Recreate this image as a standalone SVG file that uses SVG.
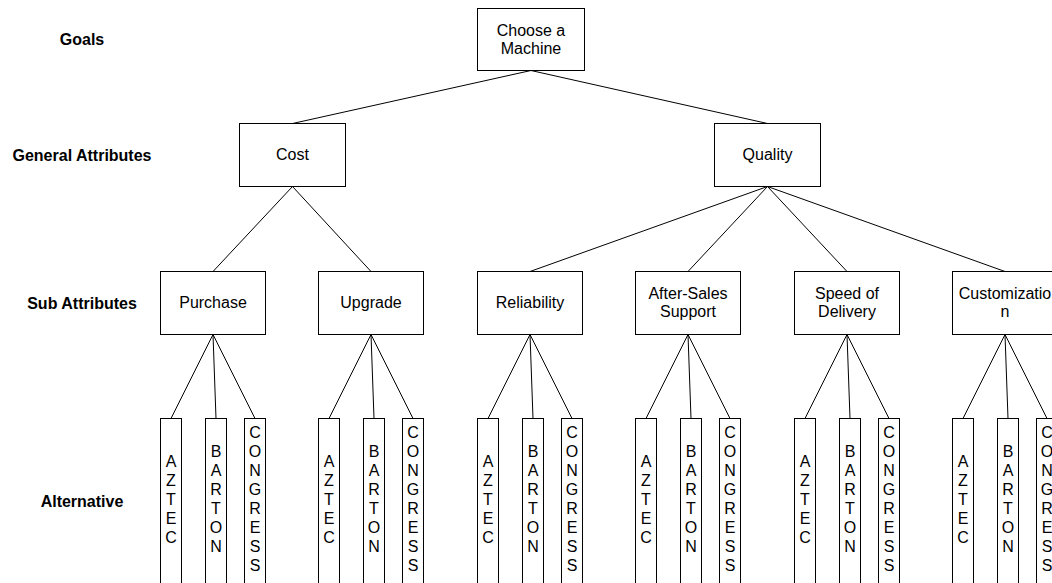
<svg xmlns="http://www.w3.org/2000/svg" width="1052" height="583" viewBox="0 0 1052 583">
<style>
.box{fill:#fff;stroke:#000;stroke-width:1}
.t{font-family:"Liberation Sans",Arial,sans-serif;font-size:16px;fill:#000;text-anchor:middle}
.lbl{font-family:"Liberation Sans",Arial,sans-serif;font-size:16px;font-weight:bold;fill:#000;text-anchor:middle}
.c line{stroke:#000;stroke-width:1}
</style>
<rect width="1052" height="583" fill="#fff"/>
<g id="level-labels">
<text class="lbl" x="82" y="45">Goals</text>
<text class="lbl" x="82" y="161">General Attributes</text>
<text class="lbl" x="82" y="309">Sub Attributes</text>
<text class="lbl" x="82" y="507">Alternative</text>
</g>
<g class="c" id="connectors">
<line x1="531" y1="70.5" x2="292.5" y2="123.5"/>
<line x1="531" y1="70.5" x2="767.5" y2="123.5"/>
<line x1="292.5" y1="186.5" x2="213" y2="271.5"/>
<line x1="292.5" y1="186.5" x2="371" y2="271.5"/>
<line x1="767.5" y1="186.5" x2="530" y2="271.5"/>
<line x1="767.5" y1="186.5" x2="688" y2="271.5"/>
<line x1="767.5" y1="186.5" x2="847" y2="271.5"/>
<line x1="767.5" y1="186.5" x2="1005" y2="271.5"/>
<line x1="213" y1="334.5" x2="171" y2="418.5"/><line x1="213" y1="334.5" x2="216" y2="418.5"/><line x1="213" y1="334.5" x2="255" y2="418.5"/>
<line x1="371" y1="334.5" x2="329" y2="418.5"/><line x1="371" y1="334.5" x2="374" y2="418.5"/><line x1="371" y1="334.5" x2="413" y2="418.5"/>
<line x1="530" y1="334.5" x2="488" y2="418.5"/><line x1="530" y1="334.5" x2="533" y2="418.5"/><line x1="530" y1="334.5" x2="572" y2="418.5"/>
<line x1="688" y1="334.5" x2="646" y2="418.5"/><line x1="688" y1="334.5" x2="691" y2="418.5"/><line x1="688" y1="334.5" x2="730" y2="418.5"/>
<line x1="847" y1="334.5" x2="805" y2="418.5"/><line x1="847" y1="334.5" x2="850" y2="418.5"/><line x1="847" y1="334.5" x2="889" y2="418.5"/>
<line x1="1005" y1="334.5" x2="963" y2="418.5"/><line x1="1005" y1="334.5" x2="1008" y2="418.5"/><line x1="1005" y1="334.5" x2="1047" y2="418.5"/>
</g>
<g id="goal">
<rect class="box" x="477.5" y="8.5" width="107" height="62"/>
<text class="t" x="531" y="36">Choose a</text>
<text class="t" x="531" y="54">Machine</text>
</g>
<g id="cost">
<rect class="box" x="239.5" y="123.5" width="106" height="63"/>
<text class="t" x="292.5" y="160">Cost</text>
</g>
<g id="quality">
<rect class="box" x="714.5" y="123.5" width="106" height="63"/>
<text class="t" x="767.5" y="160">Quality</text>
</g>
<g id="purchase">
<rect class="box" x="160.5" y="271.5" width="105" height="63"/>
<text class="t" x="213" y="308">Purchase</text>
</g>
<g id="upgrade">
<rect class="box" x="318.5" y="271.5" width="105" height="63"/>
<text class="t" x="371" y="308">Upgrade</text>
</g>
<g id="reliability">
<rect class="box" x="477.5" y="271.5" width="105" height="63"/>
<text class="t" x="530" y="308">Reliability</text>
</g>
<g id="after-sales">
<rect class="box" x="635.5" y="271.5" width="105" height="63"/>
<text class="t" x="688" y="299">After-Sales</text>
<text class="t" x="688" y="317">Support</text>
</g>
<g id="speed">
<rect class="box" x="794.5" y="271.5" width="105" height="63"/>
<text class="t" x="847" y="299">Speed of</text>
<text class="t" x="847" y="317">Delivery</text>
</g>
<g id="customization">
<rect class="box" x="952.5" y="271.5" width="105" height="63"/>
<text class="t" x="1005" y="299">Customizatio</text>
<text class="t" x="1005" y="317">n</text>
</g>
<defs>
<g id="alts">
<rect class="box" x="0.5" y="418.5" width="21" height="200"/>
<rect class="box" x="45.5" y="418.5" width="21" height="200"/>
<rect class="box" x="84.5" y="418.5" width="21" height="200"/>
<text class="t" x="11"><tspan x="11" y="466.7">A</tspan><tspan x="11" y="485.7">Z</tspan><tspan x="11" y="504.7">T</tspan><tspan x="11" y="523.7">E</tspan><tspan x="11" y="542.7">C</tspan></text>
<text class="t" x="56"><tspan x="56" y="457.2">B</tspan><tspan x="56" y="476.2">A</tspan><tspan x="56" y="495.2">R</tspan><tspan x="56" y="514.2">T</tspan><tspan x="56" y="533.2">O</tspan><tspan x="56" y="552.2">N</tspan></text>
<text class="t" x="95"><tspan x="95" y="438.2">C</tspan><tspan x="95" y="457.2">O</tspan><tspan x="95" y="476.2">N</tspan><tspan x="95" y="495.2">G</tspan><tspan x="95" y="514.2">R</tspan><tspan x="95" y="533.2">E</tspan><tspan x="95" y="552.2">S</tspan><tspan x="95" y="571.2">S</tspan></text>
</g>
</defs>
<g id="alt-purchase"><use href="#alts" x="160"/></g>
<g id="alt-upgrade"><use href="#alts" x="318"/></g>
<g id="alt-reliability"><use href="#alts" x="477"/></g>
<g id="alt-after-sales"><use href="#alts" x="635"/></g>
<g id="alt-speed"><use href="#alts" x="794"/></g>
<g id="alt-customization"><use href="#alts" x="952"/></g>
</svg>
